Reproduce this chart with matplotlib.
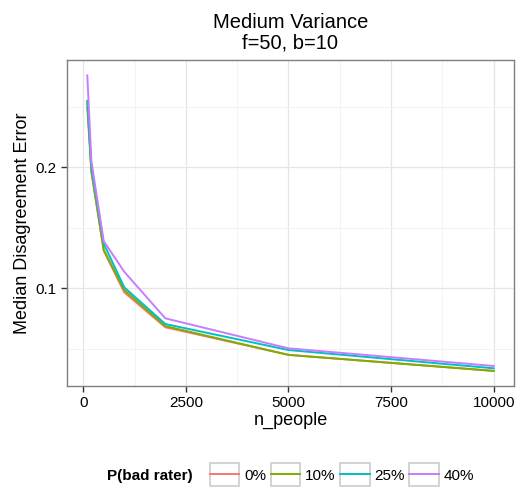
import numpy as np
import matplotlib
matplotlib.use('Agg')
import matplotlib.pyplot as plt
from matplotlib.legend_handler import HandlerLine2D
from matplotlib.patches import Rectangle
from matplotlib.ticker import MultipleLocator

plt.rcParams['font.family'] = ['Liberation Sans', 'DejaVu Sans']

# 데이터
n_people = [100, 200, 500, 1000, 2000, 5000, 10000]
err_0 = [0.249, 0.196, 0.131, 0.0967, 0.0678, 0.0450, 0.0318]
err_10 = [0.254, 0.197, 0.132, 0.0986, 0.0688, 0.0450, 0.0317]
err_25 = [0.255, 0.200, 0.137, 0.1008, 0.0705, 0.0490, 0.0339]
err_40 = [0.276, 0.205, 0.139, 0.1137, 0.0752, 0.0504, 0.0358]
labels = ['0%', '10%', '25%', '40%']
colors = ['#F8766D', '#7CAE00', '#00BFC4', '#C77CFF']


class BoxedLine(HandlerLine2D):
    # 범례 키에 회색 테두리 박스
    def create_artists(self, legend, orig_handle, xdescent, ydescent,
                       width, height, fontsize, trans):
        arts = super().create_artists(legend, orig_handle, xdescent, ydescent,
                                      width, height, fontsize, trans)
        box = Rectangle((-xdescent, -ydescent - 0.6 * height), width, height * 2.2,
                        facecolor='white', edgecolor='#CCCCCC', lw=1.2, transform=trans)
        return [box] + arts


fig = plt.figure(figsize=(5.18, 4.88), dpi=100)
ax = fig.add_axes([0.1293, 0.2096, 0.8630, 0.6674])

for ys, lab, c in zip([err_0, err_10, err_25, err_40], labels, colors):
    ax.plot(n_people, ys, color=c, lw=1.4, label=lab)

ax.set_xlim(-395, 10495)
ax.set_ylim(0.0195, 0.2887)
ax.xaxis.set_major_locator(MultipleLocator(2500))
ax.xaxis.set_minor_locator(MultipleLocator(1250))
ax.yaxis.set_major_locator(MultipleLocator(0.1))
ax.yaxis.set_minor_locator(MultipleLocator(0.05))
ax.set_yticks([0.1, 0.2])
ax.set_yticklabels(['0.1', '0.2'])
ax.grid(which='major', color='#E5E5E5', lw=0.9)
ax.grid(which='minor', color='#F3F3F3', lw=0.7)
ax.set_axisbelow(True)
ax.tick_params(which='minor', length=0)
ax.tick_params(which='major', length=4, width=1, color='#333333', labelsize=11, labelcolor='black')
for s in ax.spines.values():
    s.set_color('#7F7F7F')
    s.set_linewidth(1)

ax.set_xlabel('n_people', fontsize=13, labelpad=1)
ax.set_ylabel('Median Disagreement Error', fontsize=13, labelpad=3)
ax.set_title('Medium Variance\nf=50, b=10', fontsize=14.5, pad=8, linespacing=1.1)

h, l = ax.get_legend_handles_labels()
leg = fig.legend(h, l, loc='center left', bbox_to_anchor=(0.378, 0.025), ncol=4, frameon=False,
                 fontsize=11, handlelength=1.95, handletextpad=0.3, columnspacing=0.3,
                 handler_map={plt.Line2D: BoxedLine()})
fig.text(0.207, 0.025, 'P(bad rater)', fontsize=11, fontweight='bold', va='center', ha='left')

fig.savefig('out.png', dpi=100)
